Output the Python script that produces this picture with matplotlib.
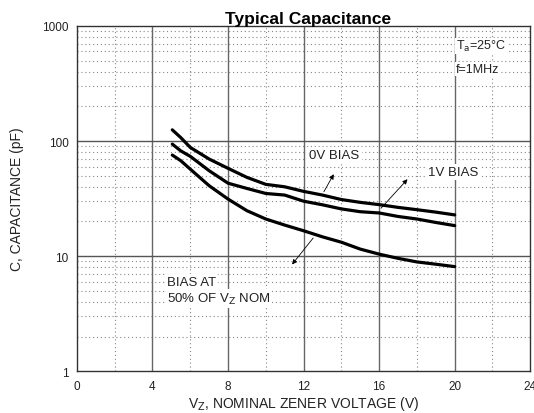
import numpy as np
import matplotlib.pyplot as plt

plt.rcParams['font.family'] = ['Liberation Sans', 'DejaVu Sans']

vz = [5.05, 5.5, 6, 7, 8, 9, 10, 11, 12, 13, 14, 15, 16, 17, 18, 19, 20]
cap_0v = [125, 107, 88, 69.7, 57.9, 48.3, 42, 40, 36.5, 33.9, 31, 29.3, 28, 26.5, 25.3, 24.1, 22.8]
cap_1v = [94, 82, 73.6, 55.2, 43, 38.7, 35, 33.9, 30, 27.9, 25.7, 24.3, 23.7, 22.1, 21, 19.6, 18.4]
cap_50 = [75.5, 67.4, 57, 40.9, 31.3, 24.8, 21, 18.6, 16.6, 14.7, 13.2, 11.5, 10.4, 9.56, 8.9, 8.5, 8.1]

xticks = [0, 4, 8, 12, 16, 20, 24]
yticks = [1, 10, 100, 1000]
ytick_labels = ['1', '10', '100', '1000']

fig = plt.figure(figsize=(5.34, 4.14), dpi=100)
ax = fig.add_axes([0.144, 0.101, 0.849, 0.834])
ax.set_yscale('log')
ax.set_xlim(0, 24)
ax.set_ylim(1, 1000)

# grid
dot = dict(color='#888888', lw=0.8, ls=(0, (1, 2.5)), zorder=1)
for x in [2, 6, 10, 14, 18, 22]:
    ax.axvline(x, **dot)
for dec in [1, 10, 100]:
    for m in range(2, 10):
        ax.axhline(dec * m, **dot)
for x in [4, 8, 12, 16, 20]:
    ax.axvline(x, color='#666666', lw=1.0, zorder=1)
for y in [10, 100]:
    ax.axhline(y, color='#555555', lw=1.0, zorder=1)

for c in (cap_0v, cap_1v, cap_50):
    ax.plot(vz, c, color='black', lw=2.3, solid_capstyle='round',
            solid_joinstyle='round', zorder=3)

box = dict(facecolor='white', edgecolor='none', pad=1.5)
ax.text(12.3, 75, '0V BIAS', fontsize=9.5, color='#222222', va='center', bbox=box, zorder=4)
ax.text(18.6, 54, '1V BIAS', fontsize=9.5, color='#222222', va='center', bbox=box, zorder=4)
ax.text(4.75, 6.0, 'BIAS AT', fontsize=9.5, color='#222222', va='center', bbox=box, zorder=4)
ax.text(4.75, 4.3, '50% OF V$_{\\rm Z}$ NOM', fontsize=9.5, color='#222222', va='center',
        bbox=box, zorder=4)
ax.text(20.05, 670, 'T$_{\\rm a}$=25\u00b0C', fontsize=9, color='#222222', va='center',
        bbox=dict(facecolor='white', edgecolor='none', pad=0.5), zorder=4)
ax.text(20.05, 424, 'f=1MHz', fontsize=9, color='#222222', va='center',
        bbox=dict(facecolor='white', edgecolor='none', pad=0.5), zorder=4)

arr = dict(arrowstyle='-|>', color='black', lw=0.6, mutation_scale=7)
ax.annotate('', xy=(13.67, 54), xytext=(13.0, 34.5), arrowprops=arr, zorder=5)
ax.annotate('', xy=(17.6, 48.5), xytext=(16.0, 25), arrowprops=arr, zorder=5)
ax.annotate('', xy=(11.3, 8.1), xytext=(12.6, 15), arrowprops=arr, zorder=5)

ax.set_xticks(xticks)
ax.set_yticks(yticks)
ax.set_yticklabels(ytick_labels)
ax.minorticks_off()
ax.tick_params(length=0, labelsize=8.5, colors='#222222', pad=6)
for s in ax.spines.values():
    s.set_color('#333333')
    s.set_linewidth(1.0)

ax.set_xlabel('V$_{\\rm Z}$, NOMINAL ZENER VOLTAGE (V)', fontsize=10, color='#222222', labelpad=2)
ax.set_ylabel('C, CAPACITANCE (pF)', fontsize=10, color='#222222', labelpad=13)
ax.set_title('Typical Capacitance', fontsize=12.5, fontweight='bold', x=0.51, pad=0)

fig.savefig('out.png', dpi=100)
